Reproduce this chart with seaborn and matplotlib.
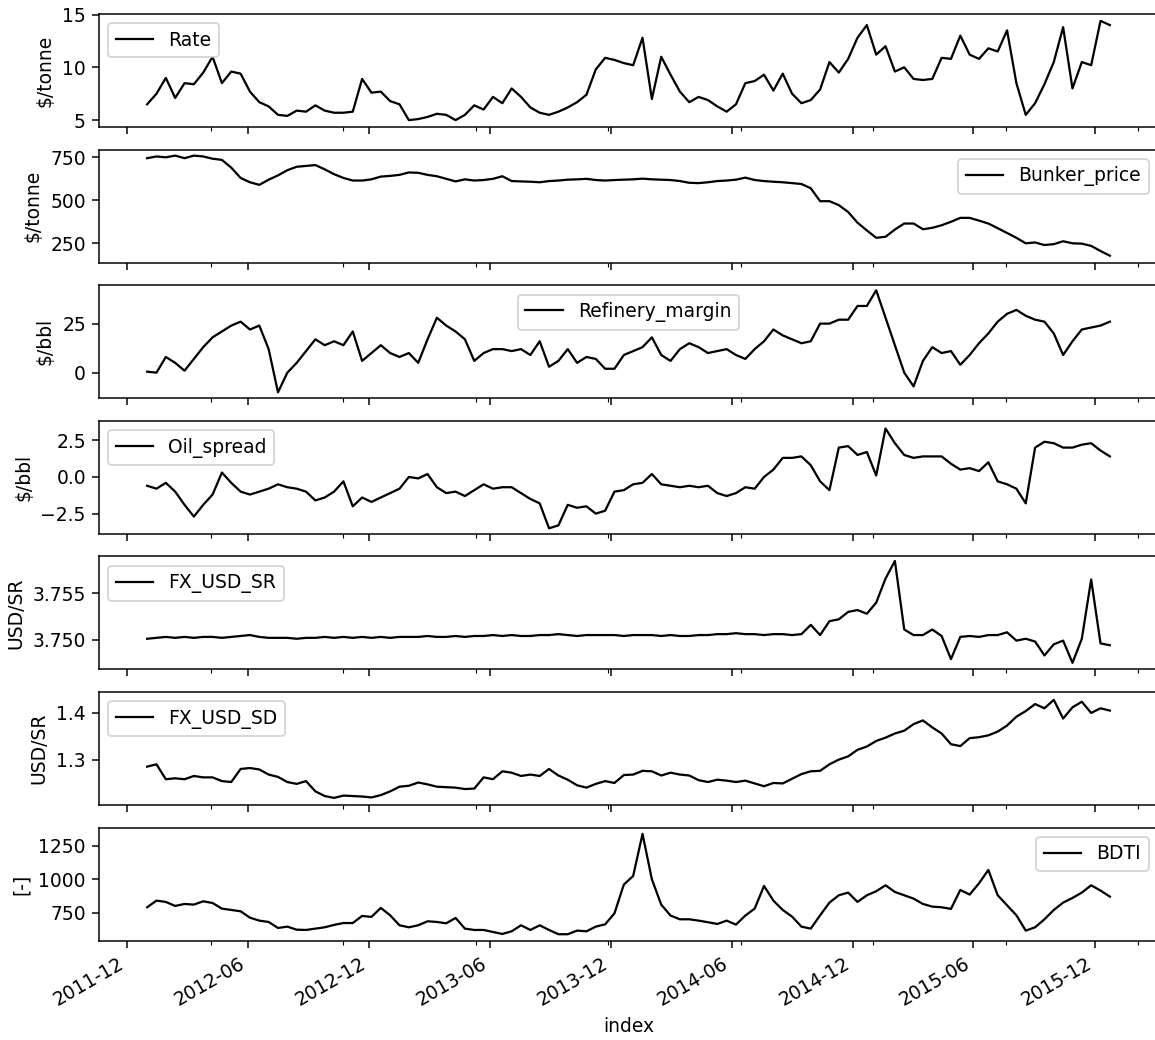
import numpy as np
import pandas as pd
import matplotlib
matplotlib.use('Agg')
import matplotlib.pyplot as plt
import matplotlib.dates as mdates
from matplotlib.ticker import FixedLocator, MultipleLocator
import seaborn as sns

dates = pd.date_range('2012-01-01', '2015-12-24', periods=104)

rate = [6.5, 7.5, 9.0, 7.1, 8.5, 8.4, 9.5, 11.0, 8.5, 9.6, 9.4, 7.7, 6.7, 6.3, 5.5, 5.4,
        5.9, 5.8, 6.4, 5.9, 5.7, 5.7, 5.8, 8.9, 7.6, 7.7, 6.8, 6.5, 5.0, 5.1, 5.3, 5.6,
        5.5, 5.0, 5.5, 6.4, 6.0, 7.2, 6.6, 8.0, 7.2, 6.2, 5.7, 5.5, 5.8, 6.2, 6.7, 7.4,
        9.8, 10.9, 10.7, 10.4, 10.2, 12.8, 7.0, 11.0, 9.3, 7.7, 6.7, 7.2, 6.9, 6.3, 5.8, 6.5,
        8.5, 8.7, 9.3, 7.8, 9.4, 7.5, 6.6, 6.9, 7.9, 10.5, 9.5, 10.8, 12.8, 14.0, 11.2, 12.0,
        9.6, 10.0, 8.9, 8.8, 8.9, 10.9, 10.8, 13.0, 11.2, 10.8, 11.8, 11.5, 13.5, 8.5, 5.5, 6.6,
        8.4, 10.5, 13.8, 8.0, 10.5, 10.2, 14.4, 14.0]

bunker_price = [745, 755, 750, 760, 745, 760, 755, 742, 735, 690, 630, 605, 590, 620, 645, 675,
                695, 700, 705, 680, 652, 630, 615, 615, 622, 638, 642, 648, 662, 660, 648, 640,
                625, 610, 622, 615, 618, 625, 640, 612, 610, 608, 605, 612, 615, 620, 622, 625,
                618, 615, 618, 620, 622, 626, 622, 620, 618, 612, 602, 600, 605, 612, 615, 620,
                632, 618, 612, 608, 605, 600, 595, 570, 495, 495, 472, 432, 370, 325, 282, 288,
                330, 365, 365, 332, 340, 355, 375, 398, 398, 382, 365, 338, 310, 282, 250, 255,
                240, 245, 262, 250, 248, 235, 205, 178]

refinery_margin = [0.5, 0, 8, 5, 1, 7, 13, 18, 21, 24, 26, 22, 24, 12, -10, 0,
                   5, 11, 17, 14, 16, 14, 21, 6, 10, 14, 10, 8, 10, 5, 17, 28,
                   24, 21, 17, 6, 10, 12, 12, 11, 12, 9, 16, 3, 6, 12, 5, 8,
                   7, 2, 2, 9, 11, 13, 18, 9, 6, 12, 15, 13, 10, 11, 12, 9,
                   7, 12, 16, 22, 19, 17, 15, 16, 25, 25, 27, 27, 34, 34, 42, 28,
                   14, 0, -7, 6, 13, 10, 11, 4, 9, 15, 20, 26, 30, 32, 29, 27,
                   26, 20, 9, 16, 22, 23, 24, 26]

oil_spread = [-0.6, -0.8, -0.4, -1.0, -1.9, -2.7, -1.9, -1.2, 0.3, -0.4, -1.0, -1.2, -1.0, -0.8, -0.5, -0.7,
              -0.8, -1.0, -1.6, -1.4, -1.0, -0.3, -2.0, -1.4, -1.7, -1.4, -1.1, -0.8, 0.0, -0.1, 0.2, -0.7,
              -1.1, -1.0, -1.3, -0.9, -0.5, -0.8, -0.7, -0.7, -1.1, -1.5, -1.8, -3.5, -3.3, -1.9, -2.1, -2.0,
              -2.5, -2.3, -1.0, -0.9, -0.5, -0.4, 0.2, -0.5, -0.6, -0.7, -0.6, -0.7, -0.6, -1.1, -1.3, -1.1,
              -0.7, -0.8, 0.0, 0.5, 1.3, 1.3, 1.4, 0.8, -0.3, -0.9, 2.0, 2.1, 1.5, 1.7, 0.1, 3.3,
              2.3, 1.5, 1.3, 1.4, 1.4, 1.4, 0.9, 0.5, 0.6, 0.4, 1.0, -0.3, -0.5, -0.8, -1.8, 2.0,
              2.4, 2.3, 2.0, 2.0, 2.2, 2.3, 1.8, 1.4]

fx_usd_sr = [3.7501, 3.7502, 3.7503, 3.7502, 3.7503, 3.7502, 3.7503, 3.7503, 3.7502, 3.7503, 3.7504, 3.7505,
             3.7503, 3.7502, 3.7502, 3.7502, 3.7501, 3.7502, 3.7502, 3.7503, 3.7502, 3.7503, 3.7502, 3.7503,
             3.7502, 3.7503, 3.7502, 3.7503, 3.7503, 3.7503, 3.7504, 3.7503, 3.7503, 3.7504, 3.7503, 3.7504,
             3.7504, 3.7505, 3.7504, 3.7505, 3.7504, 3.7504, 3.7505, 3.7505, 3.7506, 3.7505, 3.7504, 3.7505,
             3.7505, 3.7505, 3.7505, 3.7504, 3.7505, 3.7505, 3.7505, 3.7504, 3.7505, 3.7504, 3.7504, 3.7505,
             3.7505, 3.7506, 3.7506, 3.7507, 3.7506, 3.7506, 3.7505, 3.7506, 3.7506, 3.7505, 3.7506, 3.7516,
             3.7505, 3.7520, 3.7522, 3.7530, 3.7532, 3.7528, 3.7540, 3.7566, 3.7585, 3.7511, 3.7505, 3.7505,
             3.7511, 3.7504, 3.7479, 3.7503, 3.7504, 3.7503, 3.7505, 3.7505, 3.7508, 3.7499, 3.7501, 3.7498,
             3.7483, 3.7495, 3.7499, 3.7475, 3.7501, 3.7565, 3.7496, 3.7494]

fx_usd_sd = [1.285, 1.290, 1.258, 1.260, 1.258, 1.265, 1.262, 1.262, 1.254, 1.252, 1.280, 1.282,
             1.279, 1.268, 1.263, 1.252, 1.248, 1.254, 1.232, 1.222, 1.218, 1.223, 1.222, 1.221,
             1.219, 1.224, 1.232, 1.242, 1.244, 1.251, 1.247, 1.242, 1.241, 1.240, 1.237, 1.238,
             1.262, 1.258, 1.275, 1.272, 1.265, 1.268, 1.265, 1.280, 1.266, 1.257, 1.245, 1.240,
             1.248, 1.254, 1.250, 1.267, 1.268, 1.276, 1.275, 1.266, 1.272, 1.268, 1.266, 1.256,
             1.252, 1.257, 1.255, 1.252, 1.255, 1.249, 1.243, 1.250, 1.249, 1.259, 1.269, 1.275,
             1.276, 1.290, 1.300, 1.307, 1.321, 1.328, 1.340, 1.347, 1.356, 1.362, 1.376, 1.384,
             1.369, 1.356, 1.333, 1.329, 1.346, 1.348, 1.352, 1.360, 1.373, 1.392, 1.404, 1.419,
             1.410, 1.428, 1.388, 1.412, 1.424, 1.400, 1.410, 1.405]

bdti = [790, 840, 830, 800, 815, 810, 835, 822, 780, 770, 760, 712, 690, 680, 635, 645,
        622, 620, 630, 640, 658, 672, 672, 725, 718, 785, 730, 655, 640, 655, 685, 680,
        670, 710, 630, 620, 620, 605, 590, 610, 655, 620, 655, 620, 588, 588, 615, 610,
        645, 662, 745, 960, 1025, 1340, 1000, 810, 728, 700, 700, 690, 678, 665, 690, 660,
        728, 780, 950, 840, 770, 720, 645, 630, 730, 825, 880, 900, 830, 880, 910, 955,
        905, 880, 855, 815, 795, 790, 778, 920, 885, 970, 1070, 880, 805, 730, 615, 640,
        700, 770, 825, 860, 900, 955, 915, 870]

columns = ['Rate', 'Bunker_price', 'Refinery_margin', 'Oil_spread', 'FX_USD_SR', 'FX_USD_SD', 'BDTI']
units = ['$/tonne', '$/tonne', '$/bbl', '$/bbl', 'USD/SR', 'USD/SR', '[-]']
legend_locs = ['upper left', 'upper right', 'upper center', 'upper left',
               'upper left', 'upper left', 'upper right']
y_limits = [(4.35, 15.05), (138, 795), (-13.0, 44.6), (-3.87, 3.83),
            (3.7468, 3.7590), (1.203, 1.445), (541, 1388)]
y_steps = [5, 250, 25, 2.5, 0.005, 0.1, 250]

df = pd.DataFrame({'index': dates, 'Rate': rate, 'Bunker_price': bunker_price,
                   'Refinery_margin': refinery_margin, 'Oil_spread': oil_spread,
                   'FX_USD_SR': fx_usd_sr, 'FX_USD_SD': fx_usd_sd, 'BDTI': bdti})

DPI = 135

fig, axes = plt.subplots(7, 1, sharex=True, figsize=(1155 / DPI, 1040 / DPI), dpi=DPI)
fig.subplots_adjust(left=99 / 1155, right=1158 / 1155, top=1 - 14 / 1040,
                    bottom=1 - 940.5 / 1040, hspace=0.2)

for ax, col, unit, loc, ylim, step in zip(axes, columns, units, legend_locs, y_limits, y_steps):
    sns.lineplot(data=df, x='index', y=col, ax=ax, color='k', linewidth=1.2, label=col)
    ax.legend(loc=loc)
    ax.set_ylabel(unit.replace('$', r'\$'))
    ax.set_ylim(*ylim)
    ax.yaxis.set_major_locator(MultipleLocator(step))
    ax.ticklabel_format(axis='y', useOffset=False)

# short unlabelled ticks seen in the original
minor_dates = pd.date_range('2012-04-06', periods=8, freq='200D')
axes[-1].xaxis.set_minor_locator(FixedLocator(mdates.date2num(minor_dates)))
axes[-1].xaxis.set_major_locator(mdates.MonthLocator(bymonth=[6, 12]))
axes[-1].xaxis.set_major_formatter(mdates.DateFormatter('%Y-%m'))
axes[-1].set_xlabel('index')
plt.setp(axes[-1].get_xticklabels(), rotation=30, ha='right')

fig.savefig('out.png', dpi=DPI)
